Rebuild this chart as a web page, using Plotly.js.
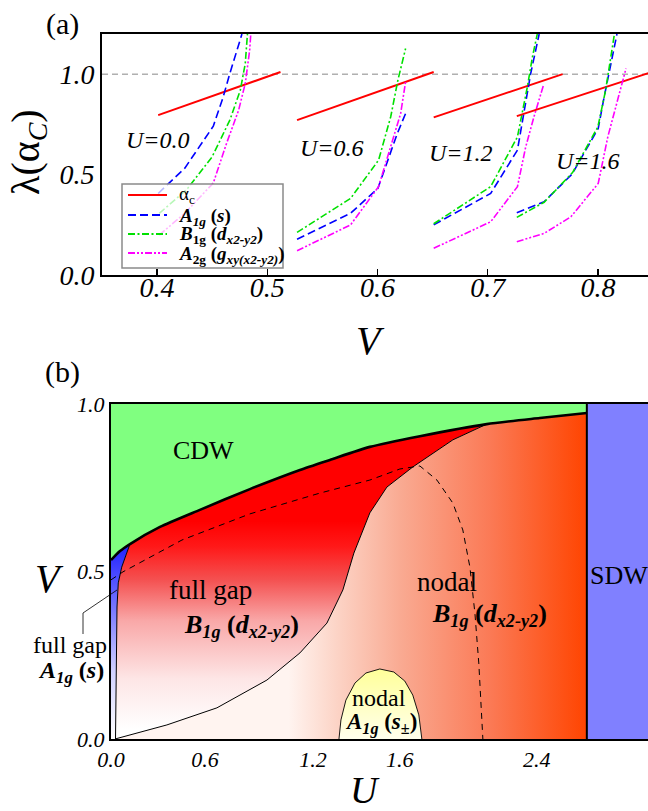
<!DOCTYPE html>
<html><head><meta charset="utf-8">
<script src="https://cdn.plot.ly/plotly-3.0.1.min.js"></script>
<style>html,body{margin:0;padding:0;overflow:hidden;background:#fff}#plot{width:670px;height:811px}</style>
</head><body><div id="plot"></div><script>
// ---------- Panel (a) data: lambda vs V for several U ----------
const alphaV_U00 = [0.401, 0.512];
const alphaL_U00 = [0.796, 1.011];
const a1gV_U00 = [0.401, 0.425, 0.451, 0.460, 0.466, 0.477];
const a1gL_U00 = [0.406, 0.531, 0.741, 0.887, 1.003, 1.2];
const b1gV_U00 = [0.402, 0.427, 0.450, 0.466, 0.4755, 0.480, 0.482];
const b1gL_U00 = [0.307, 0.426, 0.589, 0.771, 0.92, 1.053, 1.2];
const a2gV_U00 = [0.402, 0.425, 0.451, 0.463, 0.474, 0.480, 0.484, 0.485];
const a2gL_U00 = [0.199, 0.307, 0.458, 0.655, 0.821, 0.954, 1.119, 1.2];

const alphaV_U06 = [0.527, 0.651];
const alphaL_U06 = [0.771, 1.011];
const a1gV_U06 = [0.527, 0.5755, 0.6003, 0.6103, 0.618, 0.6255];
const a1gL_U06 = [0.178, 0.307, 0.431, 0.589, 0.705, 0.804];
const b1gV_U06 = [0.527, 0.5755, 0.601, 0.612, 0.6185, 0.6255];
const b1gL_U06 = [0.212, 0.381, 0.572, 0.788, 0.97, 1.128];
const a2gV_U06 = [0.527, 0.5755, 0.601, 0.612, 0.621, 0.6255];
const a2gL_U06 = [0.121, 0.249, 0.44, 0.638, 0.804, 0.962];

const alphaV_U12 = [0.651, 0.768];
const alphaL_U12 = [0.785, 1.0];
const a1gV_U12 = [0.651, 0.7027, 0.727, 0.733, 0.739, 0.7467];
const a1gL_U12 = [0.25, 0.406, 0.622, 0.821, 1.003, 1.2];
const b1gV_U12 = [0.651, 0.7027, 0.727, 0.736, 0.7406, 0.745];
const b1gL_U12 = [0.255, 0.44, 0.688, 0.937, 1.086, 1.2];
const a2gV_U12 = [0.651, 0.7027, 0.727, 0.7345, 0.742, 0.7506];
const a2gL_U12 = [0.133, 0.265, 0.44, 0.638, 0.788, 0.945];

const alphaV_U16 = [0.7264, 0.8464];
const alphaL_U16 = [0.791, 1.006];
const a1gV_U16 = [0.7264, 0.7512, 0.7765, 0.8003, 0.8057, 0.8118, 0.8173];
const a1gL_U16 = [0.31, 0.365, 0.502, 0.73, 0.887, 1.053, 1.2];
const b1gV_U16 = [0.7264, 0.7512, 0.777, 0.80, 0.807, 0.812, 0.815];
const b1gL_U16 = [0.287, 0.362, 0.51, 0.738, 0.92, 1.103, 1.2];
const a2gV_U16 = [0.7264, 0.7512, 0.7755, 0.8003, 0.809, 0.818, 0.8255];
const a2gL_U16 = [0.166, 0.207, 0.29, 0.456, 0.688, 0.871, 1.028];

const uLabels = ['U=0.0', 'U=0.6', 'U=1.2', 'U=1.6'];
const seriesNames = ['α<sub>c</sub>',
  '<b><i>A</i><sub><i>1g</i></sub> (<i>s</i>)</b>',
  '<b><i>B</i><sub>1g</sub> (<i>d</i><sub><i>x2-y2</i></sub>)</b>',
  '<b><i>A</i><sub>2g</sub> (<i>g</i><sub><i>xy(x2-y2)</i></sub>)</b>'];
const aTickV = [0.4, 0.5, 0.6, 0.7, 0.8];
const aTickL = [0.0, 0.5, 1.0];
const aTickLText = ['0.0', '0.5', '1.0'];
const lambdaCrit = 1.0;

// ---------- Panel (b) data: phase diagram V vs U ----------
const cdwU = [0, 0.0507, 0.107, 0.276, 0.501, 0.783, 1.065, 1.234, 1.459, 1.741, 2.118, 2.417, 2.682];
const cdwV = [0.534, 0.561, 0.582, 0.633, 0.684, 0.746, 0.803, 0.833, 0.872, 0.904, 0.940, 0.958, 0.973];
const sU = [0.0225, 0.315, 0.597, 0.879, 1.065, 1.217, 1.307, 1.369, 1.459, 1.555, 1.701, 1.927, 2.118];
const sV = [0, 0.042, 0.093, 0.176, 0.257, 0.346, 0.445, 0.555, 0.675, 0.752, 0.812, 0.893, 0.940];
const blueU = [0.0254, 0.0282, 0.031, 0.0338, 0.0411, 0.0603, 0.0885, 0.107];
const blueV = [0, 0.116, 0.266, 0.394, 0.466, 0.513, 0.555, 0.582];
const dashU = [0, 0.0676, 0.40, 0.783, 1.177, 1.459, 1.628, 1.741, 1.837, 1.927, 1.983, 2.023, 2.051, 2.073, 2.096];
const dashV = [0.475, 0.499, 0.594, 0.672, 0.734, 0.773, 0.806, 0.815, 0.773, 0.704, 0.624, 0.513, 0.376, 0.227, 0];
const domeU = [1.285, 1.296, 1.324, 1.375, 1.437, 1.515, 1.594, 1.656, 1.701, 1.735, 1.752];
const domeV = [0, 0.057, 0.116, 0.167, 0.197, 0.209, 0.2, 0.173, 0.131, 0.072, 0];
const sdwEdge = 2.682;
const bUmax = 3.1;
const bTickPos = [0, 0.530, 1.138, 1.628, 2.4];
const bTickText = ['0.0', '0.6', '1.2', '1.6', '2.4'];
const bTickV = [0, 0.5, 1.0];
const bTickVText = ['0.0', '0.5', '1.0'];

// ---------- helpers ----------
const W = 670, H = 811;
const px = x => x / W;
const py = y => 1 - y / H;
const SERIF = 'Liberation Serif';

const keys = ['alpha', 'a1g', 'b1g', 'a2g'];
const styles = {
  alpha: {color: '#ff0000', width: 2, dash: 'solid'},
  a1g: {color: '#0000ff', width: 1.6, dash: '8px,4px'},
  b1g: {color: '#00e000', width: 1.6, dash: '7px,2.5px,2px,2.5px'},
  a2g: {color: '#ff00ff', width: 1.6, dash: '7px,2px,2px,2px,2px,2px'}
};
const groups = [
  {alpha: [alphaV_U00, alphaL_U00], a1g: [a1gV_U00, a1gL_U00], b1g: [b1gV_U00, b1gL_U00], a2g: [a2gV_U00, a2gL_U00]},
  {alpha: [alphaV_U06, alphaL_U06], a1g: [a1gV_U06, a1gL_U06], b1g: [b1gV_U06, b1gL_U06], a2g: [a2gV_U06, a2gL_U06]},
  {alpha: [alphaV_U12, alphaL_U12], a1g: [a1gV_U12, a1gL_U12], b1g: [b1gV_U12, b1gL_U12], a2g: [a2gV_U12, a2gL_U12]},
  {alpha: [alphaV_U16, alphaL_U16], a1g: [a1gV_U16, a1gL_U16], b1g: [b1gV_U16, b1gL_U16], a2g: [a2gV_U16, a2gL_U16]}
];

const traces = [];
function fillTrace(xs, ys, opts) {
  return Object.assign({x: xs, y: ys, xaxis: 'x2', yaxis: 'y2', type: 'scatter', mode: 'lines',
    fill: 'toself', line: {width: 0, color: 'rgba(0,0,0,0)'}, hoverinfo: 'skip', showlegend: false}, opts);
}
// CDW
traces.push(fillTrace(cdwU.concat([sdwEdge, 0]), cdwV.concat([1, 1]), {fillcolor: '#80ff80'}));
// SDW
traces.push(fillTrace([sdwEdge, bUmax, bUmax, sdwEdge], [0, 0, 1, 1], {fillcolor: '#8080ff'}));
// nodal B1g
const mergeIdx = cdwU.indexOf(2.118);
traces.push(fillTrace(
  sU.concat(cdwU.slice(mergeIdx + 1), [sdwEdge]),
  sV.concat(cdwV.slice(mergeIdx + 1), [0]),
  {fillgradient: {type: 'horizontal', start: 1.0, stop: sdwEdge,
    colorscale: [[0, '#fff4f0'], [0.17, '#fcd2c4'], [0.375, '#f9aa92'], [0.675, '#fb7a56'], [1, '#ff4400']]}}));
// full gap B1g
const blueTopIdx = cdwU.indexOf(0.107);
traces.push(fillTrace(
  cdwU.slice(blueTopIdx, mergeIdx + 1).concat(sU.slice(0, -1).reverse(), blueU),
  cdwV.slice(blueTopIdx, mergeIdx + 1).concat(sV.slice(0, -1).reverse(), blueV),
  {fillgradient: {type: 'vertical', start: 0.03, stop: 0.65,
    colorscale: [[0, '#ffffff'], [0.24, '#fde6e6'], [0.52, '#f9a8a8'], [0.72, '#f45050'], [0.88, '#ff1818'], [1, '#ff0000']]}}));
// full gap A1g (blue sliver)
traces.push(fillTrace(
  [0].concat(cdwU.slice(0, blueTopIdx + 1), blueU.slice(0, -1).reverse()),
  [0].concat(cdwV.slice(0, blueTopIdx + 1), blueV.slice(0, -1).reverse()),
  {fillgradient: {type: 'vertical', start: 0, stop: 0.58,
    colorscale: [[0, '#ffffff'], [0.35, '#d0d0ff'], [0.7, '#7070ff'], [1, '#2020ff']]}}));
// nodal A1g dome
traces.push(fillTrace(domeU, domeV, {line: {width: 0.9, color: '#000'},
  fillgradient: {type: 'vertical', start: 0, stop: 0.21, colorscale: [[0, '#ffffec'], [1, '#ffff99']]}}));
function lineTrace(xs, ys, line) {
  return {x: xs, y: ys, xaxis: 'x2', yaxis: 'y2', type: 'scatter', mode: 'lines', line: line, hoverinfo: 'skip', showlegend: false};
}
traces.push(lineTrace(sU, sV, {color: '#000', width: 1}));
traces.push(lineTrace(blueU, blueV, {color: '#000', width: 1}));
traces.push(lineTrace(dashU, dashV, {color: '#000', width: 1, dash: '6px,5px'}));
traces.push(lineTrace(cdwU, cdwV, {color: '#000', width: 2.6, shape: 'spline', smoothing: 0.6}));
traces.push(lineTrace([sdwEdge, sdwEdge], [0, 1], {color: '#000', width: 2}));

// Panel (a) curves
groups.forEach((g, gi) => {
  keys.forEach((k, ki) => {
    const s = styles[k];
    traces.push({x: g[k][0], y: g[k][1], xaxis: 'x', yaxis: 'y', type: 'scatter', mode: 'lines',
      name: seriesNames[ki] + ' ' + uLabels[gi], showlegend: false, hoverinfo: 'skip',
      line: {color: s.color, width: s.width, dash: s.dash}});
  });
});

const ann = [];
function addText(text, x, y, size, opts) {
  ann.push(Object.assign({text: text, xref: 'paper', yref: 'paper', x: px(x), y: py(y),
    xanchor: 'center', yanchor: 'middle', showarrow: false,
    font: {family: SERIF, size: size, color: '#000'}}, opts || {}));
}
const italic = s => ({font: {family: SERIF, size: s, style: 'italic', color: '#000'}});
addText('(a)', 62, 24, 30);
addText('(b)', 62, 372, 30);
addText('λ(α<sub><i>C</i></sub>)', 28, 152, 40, {textangle: -90});
addText('V', 370, 340, 40, italic(40));
addText('V', 49, 578, 40, italic(40));
addText('U', 365, 790, 38, italic(38));
const uPos = [[158, 140], [332, 148], [461, 153], [588, 161]];
uLabels.forEach((t, i) => addText(t, uPos[i][0], uPos[i][1], 24, italic(24)));
addText('CDW', 203, 450, 26);
addText('full gap', 211, 590, 27);
addText('<b><i>B</i><sub><i>1g</i></sub> (<i>d</i><sub><i>x2-y2</i></sub>)</b>', 241, 626, 26);
addText('full gap', 70, 645, 24);
addText('<b><i>A</i><sub><i>1g</i></sub> (<i>s</i>)</b>', 71, 672, 24);
addText('nodal', 447, 582, 27);
addText('<b><i>B</i><sub><i>1g</i></sub> (<i>d</i><sub><i>x2-y2</i></sub>)</b>', 489, 615, 26);
addText('SDW', 588, 575, 26, {xanchor: 'left'});
addText('nodal', 379, 698, 24);
addText('<b><i>A</i><sub><i>1g</i></sub> (<i>s</i><sub>±</sub>)</b>', 381, 723, 23);

const shapes = [
  {type: 'line', xref: 'x domain', yref: 'y', x0: 0, x1: 1, y0: lambdaCrit, y1: lambdaCrit, layer: 'below',
    line: {color: '#888', width: 1, dash: '6px,4px'}},
  {type: 'path', xref: 'paper', yref: 'paper',
    path: `M ${px(83)} ${py(634)} L ${px(83)} ${py(613)} L ${px(117)} ${py(590)}`,
    line: {color: '#000', width: 0.8}},
  // legend box for panel (a)
  {type: 'rect', xref: 'paper', yref: 'paper', x0: px(122), x1: px(283), y0: py(268), y1: py(184),
    fillcolor: 'rgba(255,255,255,0.72)', line: {color: '#8a8a8a', width: 1.5}}
];
const legY = [195, 215, 234, 253];
const legTextY = [195, 217, 235, 255];
keys.forEach((k, i) => {
  const s = styles[k];
  shapes.push({type: 'line', xref: 'paper', yref: 'paper', x0: px(128), x1: px(167), y0: py(legY[i]), y1: py(legY[i]),
    line: {color: s.color, width: s.width + 0.2, dash: s.dash}});
  addText(seriesNames[i], 177, legTextY[i], 19, {xanchor: 'left'});
});

const tickFontA = {family: SERIF, size: 28, style: 'italic', color: '#000'};
const tickFontB = {family: SERIF, size: 22, style: 'italic', color: '#000'};
const layout = {
  width: W, height: H, margin: {l: 0, r: 0, t: 0, b: 0},
  paper_bgcolor: '#fff', plot_bgcolor: 'rgba(0,0,0,0)',
  showlegend: false,
  xaxis: {domain: [px(102), px(653)], range: [0.35, 0.85], anchor: 'y',
    tickvals: aTickV, ticks: 'inside', ticklen: 6, tickwidth: 1.5, tickcolor: '#000', ticklabelstandoff: -14,
    showline: true, linewidth: 2, linecolor: '#000', mirror: true, showgrid: false, zeroline: false,
    tickfont: tickFontA},
  yaxis: {domain: [py(275), py(34)], range: [0, 1.2], anchor: 'x',
    tickvals: aTickL, ticktext: aTickLText, ticks: '',
    showline: true, linewidth: 2, linecolor: '#000', mirror: true, showgrid: false, zeroline: false,
    tickfont: tickFontA},
  xaxis2: {domain: [px(111), px(661)], range: [0, bUmax], anchor: 'y2',
    tickvals: bTickPos, ticktext: bTickText, ticks: '',
    showline: true, linewidth: 2, linecolor: '#000', mirror: true, showgrid: false, zeroline: false,
    tickfont: tickFontB},
  yaxis2: {domain: [py(739), py(404)], range: [0, 1], anchor: 'x2',
    tickvals: bTickV, ticktext: bTickVText, ticks: '',
    showline: true, linewidth: 2, linecolor: '#000', mirror: true, showgrid: false, zeroline: false,
    tickfont: tickFontB},
  annotations: ann,
  shapes: shapes
};
Plotly.newPlot('plot', traces, layout, {staticPlot: true, displayModeBar: false});
</script></body></html>
